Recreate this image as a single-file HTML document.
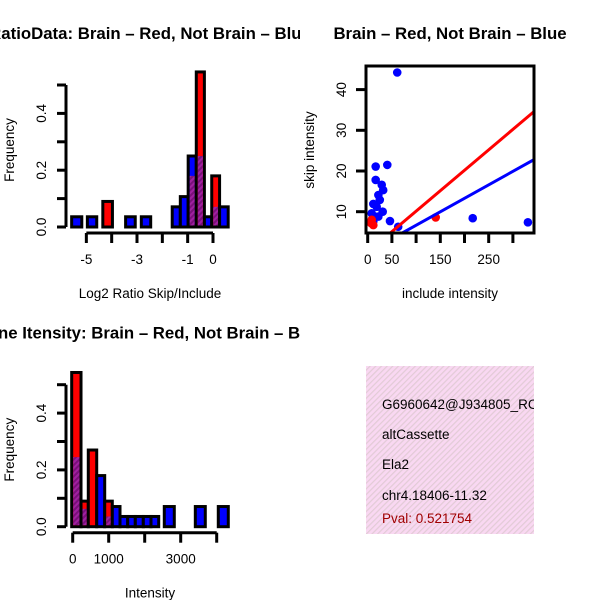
<!DOCTYPE html>
<html><head><meta charset="utf-8"><style>
body{margin:0;background:#fff}
svg{display:block;font-family:"Liberation Sans",sans-serif}
</style></head><body>
<svg id="s" width="600" height="600" viewBox="0 0 600 600">
<defs>
<pattern id="ph" width="4" height="4" patternUnits="userSpaceOnUse" patternTransform="rotate(45)">
<rect width="4" height="4" fill="#a020a0"/><rect width="2" height="4" fill="#7a107a"/></pattern>
<pattern id="pk" width="4" height="4" patternUnits="userSpaceOnUse" patternTransform="rotate(45)">
<rect width="4" height="4" fill="#f9d8f2"/><rect width="1.2" height="4" fill="#e2cbd6"/></pattern>
<clipPath id="cb"><rect x="366" y="66" width="168" height="167"/></clipPath>
<clipPath id="ci"><rect x="366" y="366" width="168" height="168"/></clipPath>
<clipPath id="cl"><rect x="0" y="0" width="300" height="600"/></clipPath>
</defs>
</svg>
<script>
// ---- data: ratio histogram
const ratioBinLo=[-5.58,-4.96,-4.35,-3.45,-2.83,-1.61,-1.29,-0.98,-0.66,-0.34,-0.05,0.26];
const ratioBinHi=[-5.18,-4.59,-3.97,-3.07,-2.46,-1.29,-0.98,-0.66,-0.34,-0.05,0.26,0.60];
const ratioRed=[0,0,0.09,0,0,0,0,0.18,0.546,0,0.18,0];
const ratioBlue=[0.036,0.036,0,0.036,0.036,0.071,0.107,0.25,0.25,0.036,0.071,0.071];
const ratioTicks=[-5,-4,-3,-2,-1,0];
const ratioTickLabels=["-5","","-3","","-1","0"];
// ---- data: intensity histogram
const intBinLo=[-28,231,433,667,889,1100,1314,1528,1739,1961,2175,2544,3406,4044];
const intBinHi=[231,433,667,889,1100,1314,1528,1739,1961,2175,2389,2822,3683,4322];
const intRed=[0.543,0.09,0.27,0,0.09,0,0,0,0,0,0,0,0,0];
const intBlue=[0.245,0.063,0,0.18,0.036,0.071,0.036,0.036,0.036,0.036,0.036,0.071,0.071,0.071];
const intTicks=[0,1000,2000,3000,4000];
const intTickLabels=["0","1000","","3000",""];
const freqTicks=[0,0.1,0.2,0.3,0.4,0.5];
const freqTickLabels=["0.0","","0.2","","0.4",""];
// ---- data: scatter
const blueX=[61,16.5,40.5,16.5,29,32,22,25,11.6,18.6,31,8.3,15,22,11.6,46,63,217,331];
const blueY=[44.2,21.1,21.5,17.8,16.6,15.3,14.1,12.9,11.9,11.2,10,9.6,8.8,8.8,7.6,7.7,6.3,8.4,7.4];
const redX=[8.3,11.6,140.5,7];
const redY=[8,6.7,8.6,7.2];
const redLine=[0.08,0.1005];
const blueLine=[0.05,0.0662];
const scXTicks=[0,50,100,150,200,250,300];
const scXLabels=["0","50","","150","","250",""];
const scYTicks=[10,20,30,40];
const infoLines=["G6960642@J934805_RC","altCassette","Ela2","chr4.18406-11.32"];
const pval="Pval: 0.521754";

const S=document.getElementById('s');
const NS='http://www.w3.org/2000/svg';
function mk(tag,attrs,parent){const e=document.createElementNS(NS,tag);for(const k in attrs)e.setAttribute(k,attrs[k]);(parent||S).appendChild(e);return e;}
function txt(x,y,s,o){const e=mk('text',Object.assign({x:x,y:y,'font-size':13.5,'text-anchor':'middle',fill:'#000'},o||{}));e.textContent=s;return e;}

function histogram(prefix,top0,lo,hi,red,blue,xs,ticks,tlabels,xlab,title){
  const g=mk('g',{});
  
  
  const ys=v=>top0-v*284;
  const ya=mk('g',{},g);
  
  
  mk('line',{x1:66,y1:ys(0),x2:66,y2:ys(0.5),stroke:'#000','stroke-width':3},ya);
  freqTicks.forEach((t,i)=>{
    mk('line',{x1:57,y1:ys(t),x2:66,y2:ys(t),stroke:'#000','stroke-width':3},ya);
    if(freqTickLabels[i]){const l=txt(46,ys(t),freqTickLabels[i],{transform:'rotate(-90 46 '+ys(t)+')'});ya.appendChild(l);}
  });
  const yl=txt(14,top0-77,'Frequency',{transform:'rotate(-90 14 '+(top0-77)+')'});
  
  
  for(let i=0;i<lo.length;i++){
    const x0=xs(lo[i]),x1=xs(hi[i]);
    const r=red[i],b=blue[i];
    const mx=Math.max(r,b),mn=Math.min(r,b);
    if(mx>0){
      const bar=mk('rect',{x:x0,y:ys(mx),width:x1-x0,height:ys(0)-ys(mx),fill:r>=b?'#f00':'#00f',stroke:'#000','stroke-width':3},g);
      
      
    }
    if(mn>0){
      const ov=mk('rect',{x:x0+1.5,y:ys(mn),width:x1-x0-3,height:ys(0)-ys(mn)-1.5,fill:'url(#ph)'},g);
      
      
    }
  }
  const xa=mk('g',{},g);
  
  
  const ay=top0+6;
  mk('line',{x1:xs(ticks[0]),y1:ay,x2:xs(ticks[ticks.length-1]),y2:ay,stroke:'#000','stroke-width':3},xa);
  ticks.forEach((t,i)=>{
    mk('line',{x1:xs(t),y1:ay,x2:xs(t),y2:ay+10,stroke:'#000','stroke-width':3},xa);
    if(tlabels[i])xa.appendChild(txt(xs(t),ay+31,tlabels[i]));
  });
  const xl=txt(150,top0+71,xlab);
  
  
  const tt=txt(150,top0-188,title,{'font-size':16.8,'font-weight':'bold','clip-path':'url(#cl)'});
  
  
}
histogram('ratio',227,ratioBinLo,ratioBinHi,ratioRed,ratioBlue,v=>213+v*25.33,ratioTicks,ratioTickLabels,'Log2 Ratio Skip/Include','RatioData: Brain \u2013 Red, Not Brain \u2013 Blue');
histogram('intensity',526.7,intBinLo,intBinHi,intRed,intBlue,v=>72.7+v*0.036,intTicks,intTickLabels,'Intensity','Gene Itensity: Brain \u2013 Red, Not Brain \u2013 Blue');

// scatter
const sx=v=>367.7+v*0.484, sy=v=>211.7-(v-10)*4.07;
const sg=mk('g',{});


const pts=mk('g',{'clip-path':'url(#cb)'},sg);
blueX.forEach((x,i)=>{const c=mk('circle',{cx:sx(x),cy:sy(blueY[i]),r:4.3,fill:'#00f'},pts);

});
redX.forEach((x,i)=>{const c=mk('circle',{cx:sx(x),cy:sy(redY[i]),r:4.3,fill:'#f00'},pts);

});
[[redLine,'#f00','red-fit-line'],[blueLine,'#00f','blue-fit-line']].forEach(([p,c,n])=>{
  const xa=-10,xb=360;
  const l=mk('line',{x1:sx(xa),y1:sy(p[0]+p[1]*xa),x2:sx(xb),y2:sy(p[0]+p[1]*xb),stroke:c,'stroke-width':3},pts);
  
  
});
const box=mk('rect',{x:366,y:66,width:168,height:167,fill:'none',stroke:'#000','stroke-width':3},sg);


scXTicks.forEach((t,i)=>{mk('line',{x1:sx(t),y1:233,x2:sx(t),y2:243,stroke:'#000','stroke-width':3},sg);
  if(scXLabels[i])sg.appendChild(txt(sx(t),264,scXLabels[i]));});
scYTicks.forEach(t=>{mk('line',{x1:356,y1:sy(t),x2:366,y2:sy(t),stroke:'#000','stroke-width':3},sg);
  sg.appendChild(txt(346,sy(t),String(t),{transform:'rotate(-90 346 '+sy(t)+')'}));});
const sxl=txt(450,298,'include intensity');


const syl=txt(314,150,'skip intensity',{transform:'rotate(-90 314 150)'});


const st=txt(450,39,'Brain \u2013 Red, Not Brain \u2013 Blue',{'font-size':16.8,'font-weight':'bold'});



// info box
const ig=mk('g',{'clip-path':'url(#ci)'});


mk('rect',{x:366,y:366,width:168,height:168,fill:'url(#pk)'},ig);
const ys2=[409,439,469,500];
infoLines.forEach((s,i)=>{const t=txt(382,ys2[i],s,{'text-anchor':'start'});ig.appendChild(t);

});
const pv=txt(382,523,pval,{'text-anchor':'start',fill:'#a00000'});
ig.appendChild(pv);


</script>
</body></html>
